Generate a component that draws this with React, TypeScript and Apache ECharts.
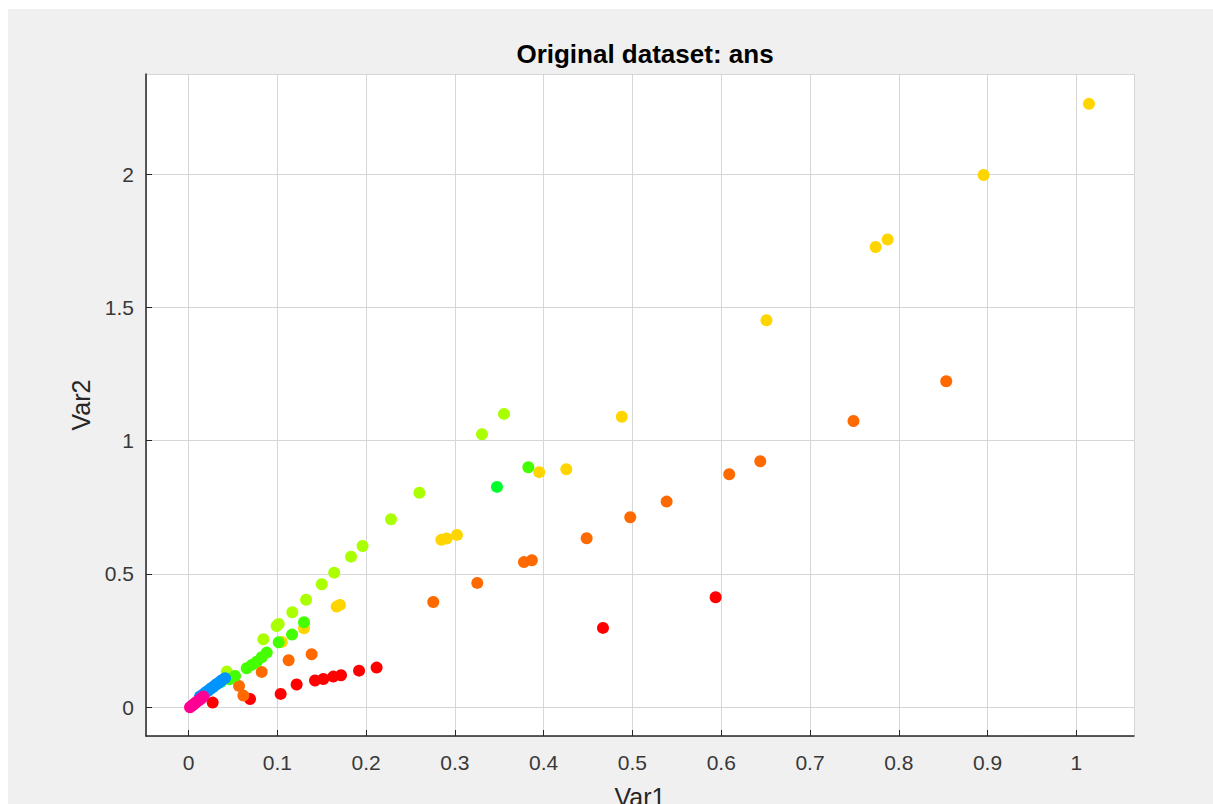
import React, { useEffect, useRef } from "react";
import * as echarts from "echarts";

const titleText = "Original dataset: ans";
const xName = "Var1";
const yName = "Var2";

const redPts: number[][] = [
  [0.0271, 0.0174], [0.0692, 0.031], [0.1037, 0.05], [0.1217, 0.085], [0.1424, 0.1],
  [0.1518, 0.106], [0.163, 0.1148], [0.1717, 0.12], [0.192, 0.1373], [0.2118, 0.1486],
  [0.4668, 0.2976], [0.5937, 0.4127],
];
const orangePts: number[][] = [
  [0.0568, 0.08], [0.0617, 0.0436], [0.0823, 0.1325], [0.1127, 0.176], [0.1386, 0.199],
  [0.2756, 0.395], [0.3252, 0.4664], [0.3778, 0.5445], [0.3867, 0.5516], [0.4484, 0.634],
  [0.4975, 0.713], [0.5385, 0.7715], [0.609, 0.874], [0.644, 0.923], [0.749, 1.074],
  [0.8535, 1.223],
];
const yellowPts: number[][] = [
  [0.105, 0.245], [0.13, 0.296], [0.1668, 0.3775], [0.1705, 0.384], [0.2847, 0.628],
  [0.2907, 0.633], [0.3023, 0.6466], [0.395, 0.882], [0.4255, 0.893], [0.488, 1.09],
  [0.651, 1.452], [0.774, 1.727], [0.7875, 1.755], [0.8956, 1.997], [1.0143, 2.264],
];
const limePts: number[][] = [
  [0.043, 0.1336], [0.0842, 0.255], [0.0992, 0.305], [0.1015, 0.3126], [0.1168, 0.3565],
  [0.1323, 0.403], [0.15, 0.4615], [0.164, 0.505], [0.183, 0.565], [0.196, 0.605],
  [0.228, 0.7054], [0.26, 0.805], [0.3305, 1.0244], [0.3553, 1.1006],
];
const greenPts: number[][] = [
  [0.046, 0.105], [0.0523, 0.1175], [0.0654, 0.1463], [0.0711, 0.1587], [0.0767, 0.171],
  [0.0823, 0.1876], [0.088, 0.205], [0.1015, 0.244], [0.1165, 0.2725], [0.13, 0.319],
  [0.3827, 0.9006],
];
const green2Pts: number[][] = [
  [0.036, 0.094], [0.3474, 0.8266],
];
const bluePts: number[][] = [
  [0.0128, 0.04], [0.016, 0.047], [0.019, 0.055], [0.022, 0.062], [0.025, 0.07],
  [0.028, 0.077], [0.031, 0.085], [0.034, 0.092], [0.037, 0.1], [0.041, 0.109],
];
const pinkPts: number[][] = [
  [0.0016, 0.0], [0.0035, 0.005], [0.0055, 0.01], [0.0075, 0.016], [0.0095, 0.021],
  [0.0115, 0.026], [0.0135, 0.031], [0.015, 0.036], [0.0166, 0.04],
];

const groupData = [redPts, orangePts, yellowPts, limePts, greenPts, green2Pts, bluePts, pinkPts];
const groupColors = ["#ff0000", "#ff6a00", "#ffd500", "#aaff00", "#44ff00", "#00ff2a", "#0094ff", "#ff0094"];

const xMin = -0.048;
const xMax = 1.065;
const yMin = -0.108;
const yMax = 2.376;

export default function App() {
  const ref = useRef<HTMLDivElement>(null);
  useEffect(() => {
    if (!ref.current) return;
    const chart = echarts.init(ref.current, null, { renderer: "svg" });
    const font = "'Liberation Sans', Arial, Helvetica, sans-serif";
    const tickFmt = (v: number) => {
      const r = Math.round(v * 10) / 10;
      if (Math.abs(v - r) > 1e-6) return "";
      return String(r);
    };
    const tickFmtY = (v: number) => {
      const r = Math.round(v * 2) / 2;
      if (Math.abs(v - r) > 1e-6) return "";
      return String(r);
    };
    chart.setOption({
      animation: false,
      backgroundColor: "#f0f0f0",
      title: {
        text: titleText,
        left: 632,
        textAlign: "center",
        top: 27,
        textStyle: { fontFamily: font, fontSize: 26, fontWeight: "bold", color: "#000" },
      },
      grid: {
        left: 138,
        top: 65,
        right: 79,
        bottom: 68,
        show: true,
        backgroundColor: "#ffffff",
        borderWidth: 0,
        outerBoundsMode: "none",
        containLabel: false,
      },
      xAxis: {
        type: "value",
        min: xMin,
        max: xMax,
        splitNumber: 11,
        name: xName,
        nameLocation: "middle",
        nameGap: 48,
        nameTextStyle: { fontFamily: font, fontSize: 25, color: "#262626" },
        axisLine: { show: true, onZero: false, lineStyle: { color: "#262626", width: 1.5 } },
        axisTick: { show: true, inside: true, length: 6, lineStyle: { color: "#262626" } },
        axisLabel: {
          fontFamily: font, fontSize: 21, color: "#383838", margin: 16,
          formatter: tickFmt, showMinLabel: false, showMaxLabel: false,
        },
        splitLine: { show: true, lineStyle: { color: "#d6d6d6", width: 1 } },
      },
      yAxis: {
        type: "value",
        min: yMin,
        max: yMax,
        splitNumber: 5,
        name: yName,
        nameLocation: "middle",
        nameGap: 44,
        nameRotate: 90,
        nameTextStyle: { fontFamily: font, fontSize: 25, color: "#262626" },
        axisLine: { show: true, onZero: false, lineStyle: { color: "#262626", width: 1.5 } },
        axisTick: { show: true, inside: true, length: 6, lineStyle: { color: "#262626" } },
        axisLabel: {
          fontFamily: font, fontSize: 21, color: "#383838", margin: 12,
          formatter: tickFmtY, showMinLabel: false, showMaxLabel: false,
        },
        splitLine: { show: true, lineStyle: { color: "#d6d6d6", width: 1 } },
      },
      series: groupData.map((d, i) => ({
        type: "scatter",
        data: d,
        symbol: "circle",
        symbolSize: 12,
        itemStyle: { color: groupColors[i], opacity: 1 },
        emphasis: { disabled: true },
      })),
    });
    return () => chart.dispose();
  }, []);
  return (
    <div
      ref={ref}
      style={{ position: "fixed", left: 8, top: 9, width: 1205, height: 795 }}
    />
  );
}
